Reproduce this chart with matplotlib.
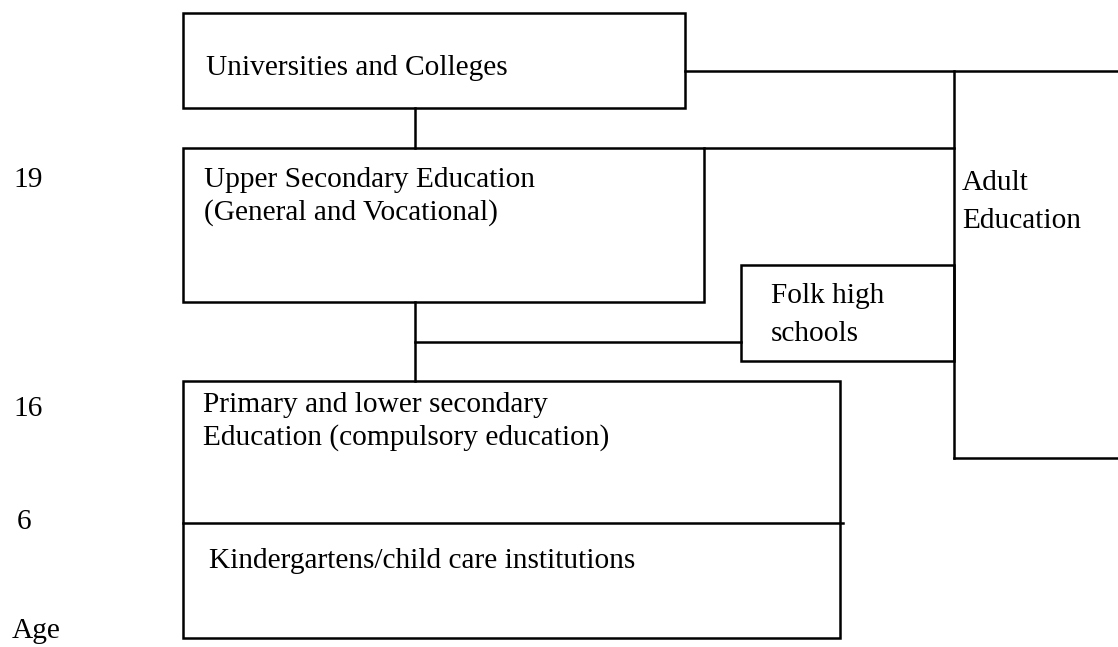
import matplotlib
matplotlib.use("Agg")
import matplotlib.pyplot as plt
from matplotlib.patches import Rectangle

# Boxes in pixel space of the diagram (x0, y0, x1, y1)
box_names = ["Universities", "Upper", "Folk", "Primary"]
box_x0 = [183, 183, 741, 183]
box_y0 = [13, 148, 265, 381]
box_x1 = [685, 704, 954, 840]
box_y1 = [108, 302, 361, 638]

# Box labels (one entry per block, lines split by \n); first-line baseline
labels = ["Universities and Colleges",
          "Upper Secondary Education\n(General and Vocational)",
          "Folk high\nschools",
          "Primary and lower secondary\nEducation (compulsory education)",
          "Kindergartens/child care institutions",
          "Adult\nEducation"]
label_x = [206, 204, 771, 203, 209, 962]
label_base = [75, 187, 303, 412, 568, 190]
label_step = [0, 33, 38, 33, 0, 38]

# Age labels
ages = ["19", "16", "6", "Age"]
age_x = [13, 13, 17, 12]
age_base = [187, 416, 529, 638]

# Connector segments (x0, y0, x1, y1)
seg_x0 = [685, 415, 704, 954, 954, 415, 415, 183]
seg_y0 = [71, 108, 148, 71, 458, 302, 342, 523]
seg_x1 = [1118, 415, 954, 954, 1118, 415, 741, 843]
seg_y1 = [71, 148, 148, 458, 458, 381, 342, 523]

fig = plt.figure(figsize=(11.18, 6.47), dpi=100)
ax = fig.add_axes([0, 0, 1, 1])
ax.set_xlim(0, 1118)
ax.set_ylim(647, 0)
ax.axis("off")

lw = 1.8
for x0, y0, x1, y1 in zip(box_x0, box_y0, box_x1, box_y1):
    ax.add_patch(Rectangle((x0, y0), x1 - x0, y1 - y0, fill=False,
                           edgecolor="black", linewidth=lw,
                           joinstyle="miter"))
for x0, y0, x1, y1 in zip(seg_x0, seg_y0, seg_x1, seg_y1):
    ax.plot([x0, x1], [y0, y1], color="black", linewidth=lw,
            solid_capstyle="projecting")

font = dict(family="Liberation Serif", fontsize=21.2, color="black")
for t, x, y, st in zip(labels, label_x, label_base, label_step):
    for i, line in enumerate(t.split("\n")):
        ax.text(x, y + i * st, line, ha="left", va="baseline", **font)
for t, x, y in zip(ages, age_x, age_base):
    ax.text(x, y, t, ha="left", va="baseline", **font)

fig.savefig("out.png", dpi=100)
